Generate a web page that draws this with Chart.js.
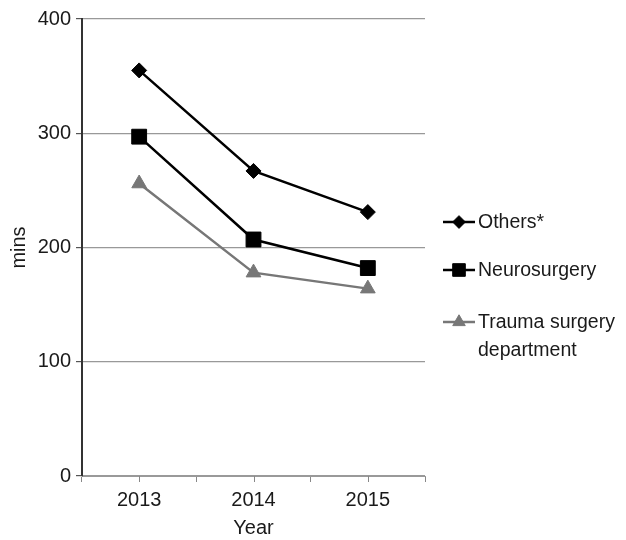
<!DOCTYPE html>
<html>
<head>
<meta charset="utf-8">
<script src="https://cdn.jsdelivr.net/npm/chart.js@4.4.0/dist/chart.umd.min.js"></script>
<style>
  html, body { margin: 0; padding: 0; background: #fff; }
  #wrap { width: 626px; height: 540px; }
</style>
</head>
<body>
<div id="wrap"><canvas id="c" width="626" height="540"></canvas></div>
<script>
// ---- data ----
const years = ['2013', '2014', '2015'];
const others = [355, 267, 231];
const neurosurgery = [297, 207, 182];
const trauma = [256, 178, 164];
const seriesLabels = [['Others*'], ['Neurosurgery'], ['Trauma surgery', 'department']];
const yTicks = [0, 100, 200, 300, 400];

const FONT = "'Liberation Sans', Arial, sans-serif";
const FS = 20;
const TXT = '#1a1a1a';

// tick marks under x axis at category centres (boundaries come from grid)
const centreTicks = {
    id: 'centreTicks',
    afterDraw(chart) {
        const x = chart.scales.x, ctx = chart.ctx;
        ctx.save();
        ctx.strokeStyle = '#888';
        ctx.lineWidth = 1;
        years.forEach((y, i) => {
            const px = Math.round(x.getPixelForValue(i)) + 0.5;
            ctx.beginPath();
            ctx.moveTo(px, x.top);
            ctx.lineTo(px, x.top + 6);
            ctx.stroke();
        });
        ctx.restore();
    }
};

// legend at the right, drawn from the datasets
const sideLegend = {
    id: 'sideLegend',
    afterDraw(chart) {
        const ctx = chart.ctx;
        const area = chart.chartArea;
        const rows = [222, 270, 322];
        const x0 = area.right + 18;
        ctx.save();
        chart.data.datasets.forEach((ds, i) => {
            const y = rows[i];
            ctx.strokeStyle = ds.borderColor;
            ctx.lineWidth = 2.5;
            ctx.beginPath();
            ctx.moveTo(x0, y);
            ctx.lineTo(x0 + 32, y);
            ctx.stroke();
            ctx.fillStyle = ds.pointBackgroundColor;
            ctx.strokeStyle = ds.pointBackgroundColor;
            ctx.lineWidth = 1;
            Chart.helpers.drawPoint(ctx, { pointStyle: ds.pointStyle, radius: ds.pointRadius * 0.85, borderWidth: 1 }, x0 + 16, y);
            ctx.fillStyle = TXT;
            ctx.font = '19.5px ' + FONT;
            ctx.textBaseline = 'middle';
            ctx.textAlign = 'left';
            seriesLabels[i].forEach((t, k) => ctx.fillText(t, x0 + 35, y + 1 + k * 28));
        });
        ctx.restore();
    }
};

function series(label, data, color, style, r) {
    return {
        label: label, data: data,
        borderColor: color, borderWidth: 2.5,
        pointStyle: style, pointRadius: r,
        pointBackgroundColor: color, pointBorderColor: color, pointBorderWidth: 1,
        tension: 0, fill: false
    };
}

new Chart(document.getElementById('c'), {
    type: 'line',
    data: {
        labels: years,
        datasets: [
            series('Others*', others, '#000', 'rectRot', 7.5),
            series('Neurosurgery', neurosurgery, '#000', 'rect', 10.5),
            series('Trauma surgery department', trauma, '#777', 'triangle', 8.5)
        ]
    },
    options: {
        responsive: false,
        animation: false,
        layout: { padding: { left: 0, right: 201, top: 19, bottom: 0 } },
        plugins: { legend: { display: false }, tooltip: { enabled: false } },
        scales: {
            x: {
                offset: true,
                afterFit(axis) { axis.height = 64; },
                grid: { drawOnChartArea: false, tickLength: 6, color: '#888', offset: true },
                border: { display: true, color: '#999', width: 1 },
                ticks: { color: TXT, font: { family: FONT, size: FS }, padding: 6 },
                title: { display: true, text: 'Year', color: TXT, font: { family: FONT, size: FS }, padding: { top: 0, bottom: 0 } }
            },
            y: {
                min: 0, max: 400,
                afterBuildTicks(axis) { axis.ticks = yTicks.map(v => ({ value: v })); },
                afterFit(axis) { axis.width = 82; },
                grid: { color: '#999', lineWidth: 1.2, tickLength: 6, tickColor: '#555' },
                border: { display: true, color: '#333', width: 2 },
                ticks: { color: TXT, font: { family: FONT, size: FS }, padding: 5 },
                title: { display: true, text: 'mins', color: TXT, font: { family: FONT, size: FS }, padding: { top: 7, bottom: 0 } }
            }
        }
    },
    plugins: [centreTicks, sideLegend]
});
</script>
</body>
</html>
